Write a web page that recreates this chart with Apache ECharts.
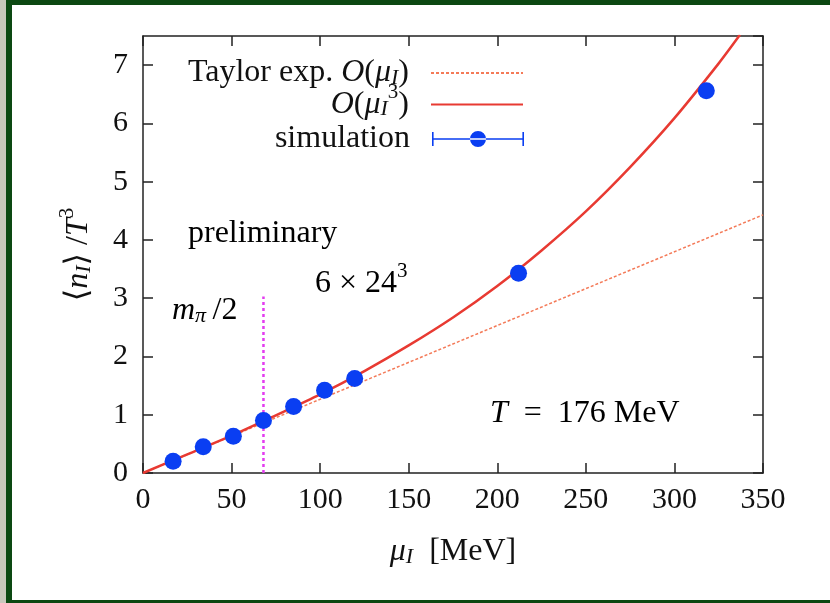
<!DOCTYPE html>
<html><head><meta charset="utf-8">
<script src="https://cdn.jsdelivr.net/npm/echarts@6/dist/echarts.min.js"></script>
<style>html,body{margin:0;padding:0;background:#fff}#c{width:830px;height:603px}</style>
</head><body><div id="c"></div>
<script>
// ---- data ----
const xTicks = [0, 50, 100, 150, 200, 250, 300, 350];
const yTicks = [0, 1, 2, 3, 4, 5, 6, 7];
const simMu = [17, 34, 51, 68, 85, 102.5, 119.5, 212, 318];
const simN  = [0.20, 0.45, 0.63, 0.90, 1.14, 1.42, 1.62, 3.43, 6.56];
const taylor1Mu = [0, 350];
const taylor1N  = [0, 4.43];
const taylor3Mu = [0, 25, 50, 75, 100, 125, 150, 175, 200, 225, 250, 275, 300, 325, 337];
const taylor3N  = [0, 0.32, 0.64, 0.99, 1.35, 1.75, 2.19, 2.67, 3.21, 3.82, 4.49, 5.25, 6.09, 7.03, 7.52];
const mpiMu = [68, 68];
const mpiN  = [0, 3.03];
const legendNames = ['taylor1', 'taylor3', 'simulation'];

const FF = "'Liberation Serif', 'DejaVu Serif', serif";
const zip = (a, b) => a.map((v, i) => [v, b[i]]);
const FS = 30;
const TS = 32;
const rich = {
  r: { fontFamily: FF, fontSize: TS, color: '#111', lineHeight: 30 },
  i: { fontFamily: FF, fontSize: TS, color: '#111', fontStyle: 'italic', lineHeight: 30 },
  sub: { fontFamily: FF, fontSize: 22, color: '#111', fontStyle: 'italic', lineHeight: 22, padding: [10, 0, 0, 0] },
  sup: { fontFamily: FF, fontSize: 21, color: '#111', lineHeight: 21, padding: [0, 0, 24, 0] }
};
const legendText = {
  taylor1: '{r|Taylor exp. }{i|O}{r|(}{i|μ}{sub|I}{r|)}',
  taylor3: '{i|O}{r|(}{i|μ}{sub|I}{sup|3}{r|)}',
  simulation: '{r|simulation}'
};
const simIcon = 'path://M0 1H1.6V15H0ZM90.4 1H92V15H90.4ZM0 7.3H92V8.7H0ZM38 8A8 8 0 1 0 54 8A8 8 0 1 0 38 8Z';

const chart = echarts.init(document.getElementById('c'), null, { renderer: 'canvas' });
const axisLine = { show: true, onZero: false, lineStyle: { color: '#222', width: 1.5 } };
const axisTick = { show: true, inside: true, length: 10, lineStyle: { color: '#222', width: 1.5 } };

const legendBase = {
  orient: 'vertical', align: 'right', right: 306,
  padding: 0, itemGap: 0, itemWidth: 92, itemHeight: 16,
  selectedMode: false,
  formatter: n => legendText[n],
  textStyle: { rich: rich, padding: [0, 17, 0, 0] }
};
const legendTops = [57, 82, 123];
const legendItems = [
  { name: legendNames[0], itemStyle: { opacity: 0 } },
  { name: legendNames[1], itemStyle: { opacity: 0 } },
  { name: legendNames[2], icon: simIcon }
];

chart.setOption({
  backgroundColor: '#fff',
  animation: false,
  grid: { left: 143, right: 67, top: 36, bottom: 130, show: false },
  legend: legendItems.map((it, k) => Object.assign({}, legendBase, { data: [it], top: legendTops[k] })),
  xAxis: [
    { type: 'value', min: 0, max: 350, interval: 50, position: 'bottom',
      axisLine, axisTick, splitLine: { show: false },
      axisLabel: { fontFamily: FF, fontSize: FS, color: '#111', margin: 12,
        formatter: v => xTicks.includes(v) ? String(v) : '' },
      name: '{i|μ}{sub|I}{r|  [MeV]}', nameLocation: 'middle', nameGap: 64,
      nameTextStyle: { rich: rich } },
    { type: 'value', min: 0, max: 350, interval: 50, position: 'top',
      axisLine, axisTick, splitLine: { show: false }, axisLabel: { show: false } }
  ],
  yAxis: [
    { type: 'value', min: 0, max: 7.5, interval: 1, position: 'left',
      axisLine, axisTick, splitLine: { show: false },
      axisLabel: { fontFamily: FF, fontSize: FS, color: '#111', margin: 15, showMaxLabel: false,
        formatter: v => yTicks.includes(v) ? String(v) : '' },
      name: '{r|⟨}{i|n}{sub|I}{r|⟩ /}{i|T}{sup|3}', nameLocation: 'middle', nameGap: 49, nameRotate: 90,
      nameTextStyle: { rich: rich } },
    { type: 'value', min: 0, max: 7.5, interval: 1, position: 'right',
      axisLine, axisTick, splitLine: { show: false }, axisLabel: { show: false } }
  ],
  series: [
    { name: 'taylor1', type: 'line', data: zip(taylor1Mu, taylor1N), symbol: 'none', showSymbol: false,
      lineStyle: { color: '#f47a58', width: 1.5, type: [3, 2] }, itemStyle: { color: '#f47a58' }, z: 3 },
    { name: 'taylor3', type: 'line', data: zip(taylor3Mu, taylor3N), symbol: 'none', showSymbol: false, smooth: 0.3,
      lineStyle: { color: '#e83a32', width: 2.5 }, itemStyle: { color: '#e83a32' }, z: 4 },
    { name: 'mpi', type: 'line', data: zip(mpiMu, mpiN), symbol: 'none', showSymbol: false,
      lineStyle: { color: '#e33cf0', width: 2.5, type: [3, 3] }, z: 2 },
    { name: 'simulation', type: 'scatter', data: zip(simMu, simN), symbolSize: 17,
      itemStyle: { color: '#0a3ef2', opacity: 1 }, z: 5 }
  ],
  graphic: [
    { type: 'rect', shape: { x: 0, y: 0, width: 6, height: 603 }, style: { fill: '#c9c8bc' }, z: 100 },
    { type: 'rect', shape: { x: 6, y: 0, width: 6, height: 603 }, style: { fill: '#0c4812' }, z: 100 },
    { type: 'rect', shape: { x: 6, y: 0, width: 824, height: 5 }, style: { fill: '#0c4812' }, z: 100 },
    { type: 'rect', shape: { x: 6, y: 600, width: 824, height: 3 }, style: { fill: '#0c4812' }, z: 100 },
    { type: 'text', left: 188, top: 218, style: { text: '{r|preliminary}', rich: rich } },
    { type: 'text', left: 315, top: 261, style: { text: '{r|6 × 24}{sup|3}', rich: rich } },
    { type: 'text', left: 172, top: 295, style: { text: '{i|m}{sub|π}{r|\u2009/2}', rich: rich } },
    { type: 'text', left: 490, top: 398, style: { text: '{i|T}{r|  =  176 MeV}', rich: rich } }
  ]
});
</script></body></html>
